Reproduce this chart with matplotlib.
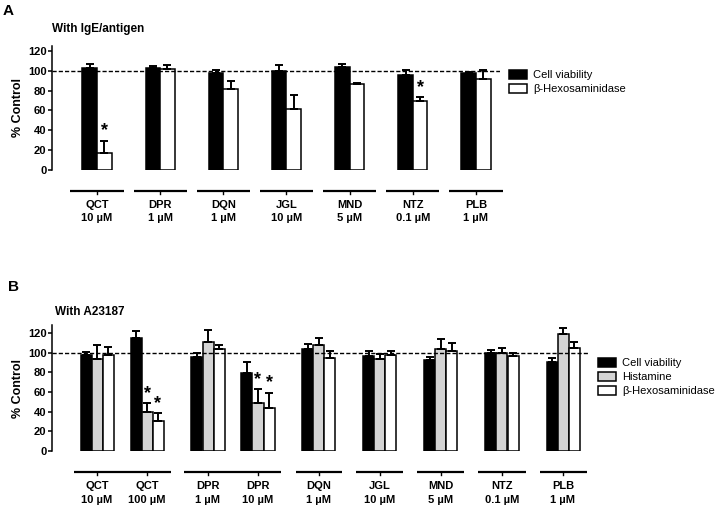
import matplotlib
matplotlib.use("Agg")
import matplotlib.pyplot as plt
from matplotlib.patches import Patch
import numpy as np

plt.rcParams['font.family'] = ['Liberation Sans', 'DejaVu Sans']

# ---------------- data ----------------
A_drugs = ['QCT', 'DPR', 'DQN', 'JGL', 'MND', 'NTZ', 'PLB']
A_doses = ['10 µM', '1 µM', '1 µM', '10 µM', '5 µM', '0.1 µM', '1 µM']
A_viab = [103, 102.5, 98, 100, 104, 95.5, 98]
A_viab_err = [4, 2, 2.5, 6, 2.5, 5.5, 1]
A_hex = [17.5, 101.5, 81.7, 61, 86.4, 69.6, 92]
A_hex_err = [12, 4, 8, 15, 1.5, 3.7, 9]
A_sig_hex = [True, False, False, False, False, True, False]

B_drugs = ['QCT', 'QCT', 'DPR', 'DPR', 'DQN', 'JGL', 'MND', 'NTZ', 'PLB']
B_doses = ['10 µM', '100 µM', '1 µM', '10 µM', '1 µM', '10 µM', '5 µM', '0.1 µM', '1 µM']
B_viab = [97.7, 115.3, 96, 79, 103.8, 97, 92.2, 99.4, 90.8]
B_viab_err = [3, 7, 3.4, 11.5, 5, 4.5, 3.4, 3.3, 3.5]
B_hist = [93.9, 39.4, 110.6, 49, 107.5, 93.3, 103.8, 99.4, 119.3]
B_hist_err = [14, 9, 12.5, 14, 7.5, 5, 10, 5.4, 5.8]
B_hex = [97.7, 30.2, 104, 43.7, 94.3, 97.3, 102, 96.6, 105]
B_hex_err = [8, 8, 3.7, 15.6, 7, 4.4, 8, 3, 6]
B_sig_hist = [False, True, False, True, False, False, False, False, False]
B_sig_hex = [False, True, False, True, False, False, False, False, False]

series_labels_A = ['Cell viability', 'β-Hexosaminidase']
series_labels_B = ['Cell viability', 'Histamine', 'β-Hexosaminidase']

# ---------------- style ----------------
W, H = 719, 509
fig = plt.figure(figsize=(W / 100, H / 100), dpi=100)
GREY = '#d4d4d4'
FS = 8


def frac_box(left, right, top, bottom):
    return [left / W, 1 - bottom / H, (right - left) / W, (bottom - top) / H]


def style_axis(ax, ytop):
    for s in ['top', 'right', 'bottom']:
        ax.spines[s].set_visible(False)
    ax.spines['left'].set_linewidth(1.1)
    ax.set_ylim(0, ytop)
    ax.set_yticks(np.arange(0, 121, 20))
    ax.tick_params(axis='y', length=3, width=1.1, pad=1, labelsize=FS)
    for t in ax.get_yticklabels():
        t.set_fontweight('bold')
    ax.set_xticks([])
    ax.set_ylabel('% Control', fontsize=FS + 1, fontweight='bold', labelpad=3)


def err(ax, x, y, e):
    ax.errorbar(x, y, yerr=[np.zeros(len(e)), e], fmt='none', ecolor='black',
                elinewidth=1.4, capsize=3, capthick=1.4, zorder=4)


def groups_axis(ax, pos, drugs, doses, half, yseg, ylab1, ylab2):
    # segmented x axis lines (one per drug group)
    i = 0
    n = len(drugs)
    while i < n:
        j = i
        while j + 1 < n and drugs[j + 1] == drugs[i]:
            j += 1
        ax.plot([pos[i] - half, pos[j] + half], [yseg, yseg], color='black',
                lw=1.6, clip_on=False, solid_capstyle='butt')
        i = j + 1
    for p, d, c in zip(pos, drugs, doses):
        ax.plot([p, p], [yseg, yseg - 3], color='black', lw=1.0, clip_on=False)
        ax.text(p, ylab1, d, ha='center', va='center', fontsize=FS,
                fontweight='bold', clip_on=False)
        ax.text(p, ylab2, c, ha='center', va='center', fontsize=FS,
                fontweight='bold', clip_on=False)


def stars(ax, xs, tops, flags):
    for x, t, f in zip(xs, tops, flags):
        if f:
            ax.annotate('*', (x, t), xytext=(0, 1), textcoords='offset points',
                        ha='center', va='bottom', fontsize=13, fontweight='bold')


# ---------------- Panel A ----------------
axA = fig.add_axes(frac_box(52, 500, 46, 170))
posA = np.arange(len(A_drugs), dtype=float)
wA = 0.23
axA.set_xlim(-0.712, 6.38)
style_axis(axA, 125)
axA.bar(posA - wA / 2, A_viab, width=wA, color='black', edgecolor='black',
        linewidth=1.1, zorder=2)
axA.bar(posA + wA / 2, A_hex, width=wA, color='white', edgecolor='black',
        linewidth=1.1, zorder=2)
err(axA, posA - wA / 2, A_viab, A_viab_err)
err(axA, posA + wA / 2, A_hex, A_hex_err)
axA.axhline(100, color='black', lw=1.0, ls=(0, (3, 1.5)), zorder=5)
stars(axA, posA + wA / 2, np.array(A_hex) + np.array(A_hex_err), A_sig_hex)
groups_axis(axA, posA, A_drugs, A_doses, 0.42, -21, -35, -48)

fig.text(3 / W, 1 - 11 / H, 'A', fontsize=11, fontweight='bold', va='center', ha='left')
fig.text(52 / W, 1 - 29 / H, 'With IgE/antigen', fontsize=FS + 0.5,
         fontweight='bold', va='center', ha='left')
fig.legend([Patch(facecolor='black', edgecolor='black', linewidth=1.1),
            Patch(facecolor='white', edgecolor='black', linewidth=1.1)],
           series_labels_A, loc='upper left', bbox_to_anchor=(509 / W, 1 - 70 / H),
           frameon=False, fontsize=FS, handlelength=1.6, handleheight=0.8,
           handletextpad=0.6, labelspacing=0.35, borderpad=0, borderaxespad=0)

# ---------------- Panel B ----------------
axB = fig.add_axes(frac_box(52, 588, 325, 451))
posB = [0.0]
for k in range(1, len(B_drugs)):
    posB.append(posB[-1] + (1.0 if B_drugs[k] == B_drugs[k - 1] else 1.22))
posB = np.array(posB)
wB = 0.22
axB.set_xlim(-0.9, 9.82)
style_axis(axB, 128)
axB.bar(posB - wB, B_viab, width=wB, color='black', edgecolor='black',
        linewidth=1.1, zorder=2)
axB.bar(posB, B_hist, width=wB, color=GREY, edgecolor='black',
        linewidth=1.1, zorder=2)
axB.bar(posB + wB, B_hex, width=wB, color='white', edgecolor='black',
        linewidth=1.1, zorder=2)
err(axB, posB - wB, B_viab, B_viab_err)
err(axB, posB, B_hist, B_hist_err)
err(axB, posB + wB, B_hex, B_hex_err)
axB.axhline(100, color='black', lw=1.0, ls=(0, (3, 1.5)), zorder=5)
stars(axB, posB, np.array(B_hist) + np.array(B_hist_err), B_sig_hist)
stars(axB, posB + wB, np.array(B_hex) + np.array(B_hex_err), B_sig_hex)
groups_axis(axB, posB, B_drugs, B_doses, 0.47, -21, -36, -50)

fig.text(8 / W, 1 - 287 / H, 'B', fontsize=11, fontweight='bold', va='center', ha='left')
fig.text(55 / W, 1 - 312 / H, 'With A23187', fontsize=FS + 0.5,
         fontweight='bold', va='center', ha='left')
fig.legend([Patch(facecolor='black', edgecolor='black', linewidth=1.1),
            Patch(facecolor=GREY, edgecolor='black', linewidth=1.1),
            Patch(facecolor='white', edgecolor='black', linewidth=1.1)],
           series_labels_B, loc='upper left', bbox_to_anchor=(598 / W, 1 - 358 / H),
           frameon=False, fontsize=FS, handlelength=1.6, handleheight=0.8,
           handletextpad=0.6, labelspacing=0.35, borderpad=0, borderaxespad=0)

fig.savefig('out.png', dpi=100, facecolor='white')
